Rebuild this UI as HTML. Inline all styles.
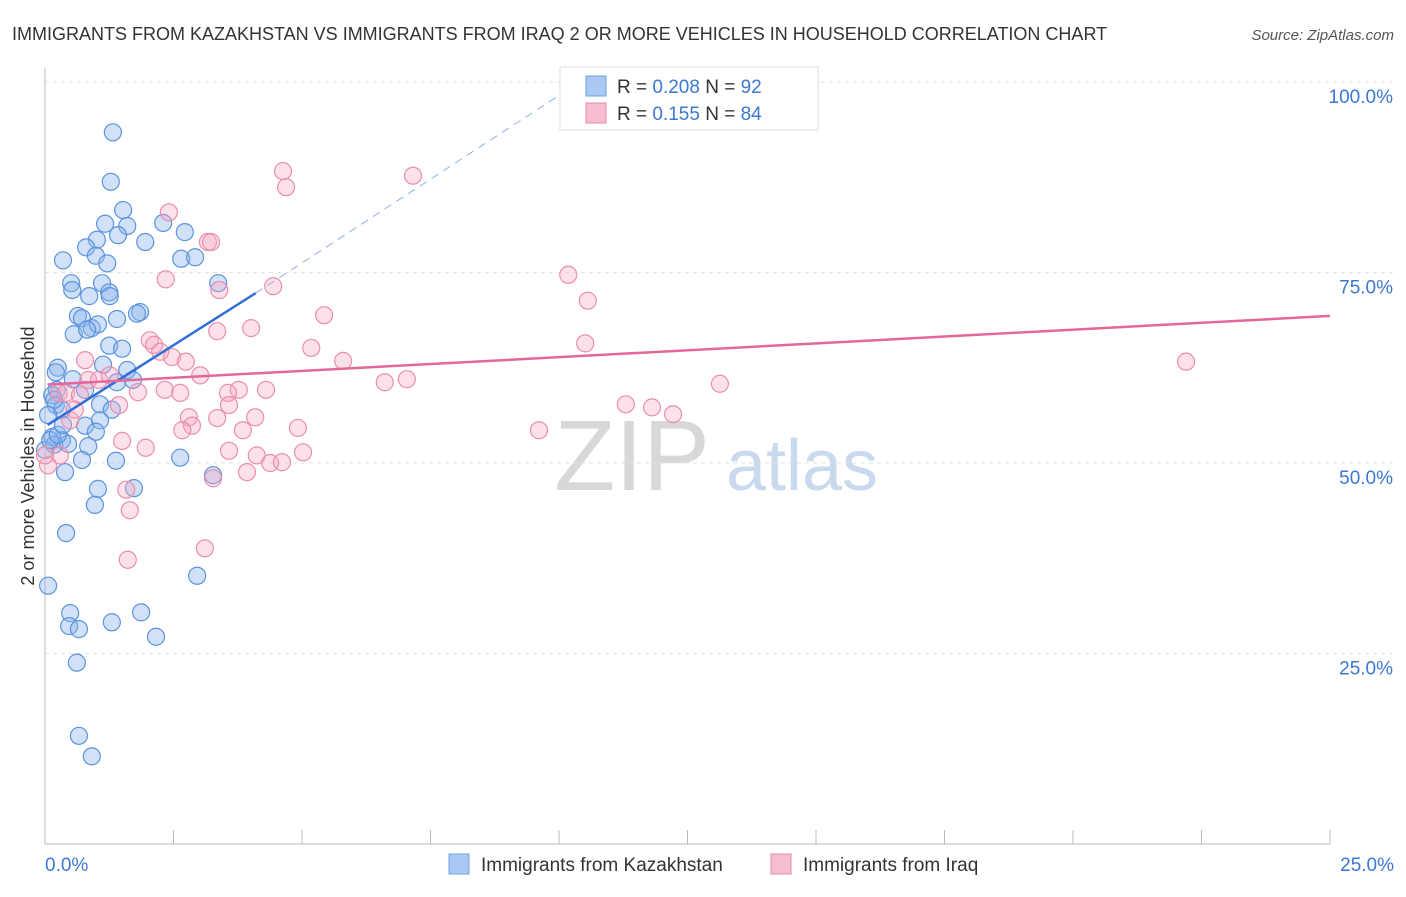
<!DOCTYPE html>
<html><head><meta charset="utf-8"><style>
body{margin:0;background:#fff;font-family:"Liberation Sans",sans-serif;}
svg text{font-family:"Liberation Sans",sans-serif;}
</style></head><body>
<svg id="chart" width="1406" height="892">
<text x="12" y="40" font-size="18" fill="#333">IMMIGRANTS FROM KAZAKHSTAN VS IMMIGRANTS FROM IRAQ 2 OR MORE VEHICLES IN HOUSEHOLD CORRELATION CHART</text>
<text x="1394" y="40" font-size="15" fill="#555" font-style="italic" text-anchor="end">Source: ZipAtlas.com</text>
<text x="34" y="456" font-size="18" fill="#333" text-anchor="middle" transform="rotate(-90 34 456)">2 or more Vehicles in Household</text>
<g><text x="632" y="490" font-size="100" fill="#d8d8d8" font-family="Liberation Serif" text-anchor="middle">ZIP</text><text x="802" y="490" font-size="72" fill="#c9d9ee" text-anchor="middle">atlas</text></g>
<g id="grid"></g><g id="pts"></g><g id="lines"></g>
<g>
<rect x="560" y="67" width="258" height="63" fill="#fff" stroke="#ddd"/>
<rect x="586" y="76" width="20" height="20" fill="#a9c8f2" stroke="#6f9fe0"/>
<rect x="586" y="103" width="20" height="20" fill="#f6bccf" stroke="#e88aa8"/>
<text x="617" y="93" font-size="19" fill="#333">R = <tspan fill="#3a78d4">0.208</tspan>    N = <tspan fill="#3a78d4">92</tspan></text>
<text x="617" y="120" font-size="19" fill="#333">R =  <tspan fill="#3a78d4">0.155</tspan>    N = <tspan fill="#3a78d4">84</tspan></text>
</g>
<g>
<rect x="449" y="854" width="20" height="20" fill="#a9c8f2" stroke="#6f9fe0"/>
<text x="481" y="871" font-size="19" fill="#333">Immigrants from Kazakhstan</text>
<rect x="771" y="854" width="20" height="20" fill="#f6bccf" stroke="#e88aa8"/>
<text x="803" y="871" font-size="19" fill="#333">Immigrants from Iraq</text>
</g>
</svg>
<script>
const yTicks=[25,50,75,100];
const yTickLabels=["25.0%","50.0%","75.0%","100.0%"];
const xTickLabels=["0.0%","25.0%"];
const blueX=[1.32,1.28,1.52,1.17,1.6,1.01,1.42,1.95,2.3,2.72,.8,.35,.99,1.21,2.65,2.92,.51,.53,1.11,.86,1.25,1.26,3.37,1.85,1.79,.64,.72,1.4,.56,.91,1.03,.82,1.25,1.5,.25,.21,1.13,1.6,1.71,.54,.78,1.4,.23,.14,.21,.33,1.07,1.3,1.07,.78,.99,.33,.14,.18,.45,.84,0,.72,1.38,2.63,3.27,.39,1.03,1.73,.97,.41,2.96,.06,.49,1.87,.47,.66,1.3,2.16,.62,.66,.91,.1,.25,.35,.18,.06];
const blueY=[93.4,86.9,83.2,81.4,81.1,79.3,79.9,79.0,81.5,80.3,78.3,76.6,77.2,76.2,76.8,77.0,73.6,72.7,73.6,71.9,72.4,71.9,73.6,69.8,69.6,69.3,69.0,68.9,66.9,67.7,68.2,67.5,65.4,65.0,62.5,61.9,62.9,62.2,60.9,61.0,59.6,60.6,59.6,58.9,57.6,57.0,57.7,57.0,55.6,54.9,54.1,53.0,53.4,52.4,52.5,52.2,51.7,50.4,50.3,50.7,48.4,48.8,46.6,46.7,44.5,40.8,35.2,33.9,30.3,30.4,28.6,28.2,29.1,27.2,23.8,14.2,11.5,53.0,53.7,55.0,58.3,56.3];
const pinkX=[4.63,4.69,7.16,2.41,3.17,3.23,2.35,3.39,4.44,10.18,10.56,4.01,3.35,5.43,2.04,2.12,10.51,5.18,5.8,2.47,2.74,2.24,.78,3.02,22.2,6.61,7.04,13.13,1.81,2.33,2.63,3.77,3.56,4.3,.84,1.05,.27,.41,1.44,3.58,3.35,4.09,2.8,11.3,11.81,12.22,2.86,2.67,4.92,9.61,3.85,1.5,1.96,3.58,4.12,5.02,4.38,4.61,3.93,3.27,1.58,1.65,3.11,1.61,.06,.29,.49,.68,1.26,.58,0];
const pinkY=[88.3,86.2,87.7,82.9,79.0,79.0,74.1,72.7,73.2,74.7,71.3,67.7,67.3,69.4,66.1,65.5,65.7,65.1,63.4,63.9,63.3,64.6,63.5,61.5,63.3,60.6,61.0,60.4,59.3,59.6,59.2,59.6,59.2,59.6,60.9,60.9,59.2,59.2,57.6,57.6,55.9,56.0,56.0,57.7,57.3,56.4,54.9,54.3,54.6,54.3,54.3,52.9,52.0,51.6,51.0,51.4,50.0,50.1,48.8,48.0,46.5,43.8,38.8,37.3,49.7,51.0,55.6,58.9,61.5,57.0,51.0];
const blueTrend=[[0.05,55.0],[4.1,72.3]];
const blueDash=[[4.1,72.3],[10.4,100]];
const pinkTrend=[[0.05,60.3],[25,69.3]];
const X=v=>45+v/25*1285, Y=v=>844-v/100*762;
const NS="http://www.w3.org/2000/svg";
const mk=(p,t,a)=>{const e=document.createElementNS(NS,t);for(const k in a)e.setAttribute(k,a[k]);p.appendChild(e);return e;};
const grid=document.getElementById('grid'),pts=document.getElementById('pts'),lines=document.getElementById('lines'),svg=document.getElementById('chart');
let ax=mk(grid,'line',{x1:45,y1:68,x2:45,y2:844,stroke:'#bbb'});


let bx=mk(grid,'line',{x1:45,y1:844,x2:1330,y2:844,stroke:'#bbb'});


for(let i=1;i<=10;i++){const tx=mk(grid,'line',{x1:45+i*128.5,y1:830,x2:45+i*128.5,y2:844,stroke:'#bbb'});

}
yTicks.forEach((v,i)=>{const g=mk(grid,'line',{x1:45,y1:Y(v),x2:1394,y2:Y(v),stroke:'#e2e2e2','stroke-dasharray':'4 4'});


const t=mk(grid,'text',{x:1393,y:Y(v)+21,'font-size':19,fill:'#3a78d4','text-anchor':'end'});t.textContent=yTickLabels[i];

});
const t0=mk(grid,'text',{x:45,y:871,'font-size':19,fill:'#3a78d4'});t0.textContent=xTickLabels[0];


const t1=mk(grid,'text',{x:1394,y:871,'font-size':19,fill:'#3a78d4','text-anchor':'end'});t1.textContent=xTickLabels[1];


blueX.forEach((v,i)=>{const c=mk(pts,'circle',{cx:X(v),cy:Y(blueY[i]),r:8.5,fill:'rgba(140,180,235,0.4)',stroke:'#5b93de','stroke-width':1.2});

});
pinkX.forEach((v,i)=>{const c=mk(pts,'circle',{cx:X(v),cy:Y(pinkY[i]),r:8.5,fill:'rgba(245,170,195,0.35)',stroke:'#ea8eac','stroke-width':1.2});

});
const l1=mk(lines,'line',{x1:X(blueTrend[0][0]),y1:Y(blueTrend[0][1]),x2:X(blueTrend[1][0]),y2:Y(blueTrend[1][1]),stroke:'#2f6fd6','stroke-width':2.5});


const l2=mk(lines,'line',{x1:X(blueDash[0][0]),y1:Y(blueDash[0][1]),x2:X(blueDash[1][0]),y2:Y(blueDash[1][1]),stroke:'#8fb0e6','stroke-width':1,'stroke-dasharray':'8 6'});


const l3=mk(lines,'line',{x1:X(pinkTrend[0][0]),y1:Y(pinkTrend[0][1]),x2:X(pinkTrend[1][0]),y2:Y(pinkTrend[1][1]),stroke:'#e5679a','stroke-width':2.5});


</script>
</body></html>
